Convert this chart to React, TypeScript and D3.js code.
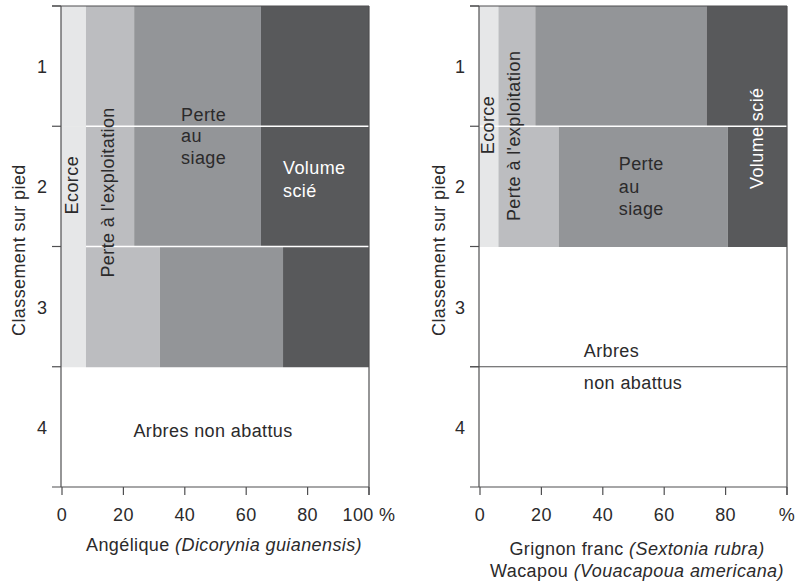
import React from "react";
import * as d3 from "d3";

// ---------- data ----------
const rowLabels = ["1", "2", "3", "4"];
const segmentNames = ["Ecorce", "Perte à l'exploitation", "Perte au siage", "Volume scié"];
const segmentColors = ["#e6e7e8", "#bcbdc0", "#939598", "#58595b"];

// Angélique: % per standing-class row (rows 1-3 felled, row 4 not felled)
const angeliqueRows = ["1", "2", "3"];
const angeliqueEcorce = [7.8, 7.8, 7.8];
const angeliqueExploitation = [15.7, 15.7, 24.1];
const angeliqueSiage = [41.3, 41.3, 40.1];
const angeliqueVolume = [35.2, 35.2, 28.0];

// Grignon franc / Wacapou: rows 1-2 felled, rows 3-4 not felled
const wacapouRows = ["1", "2"];
const wacapouEcorce = [6.0, 6.0];
const wacapouExploitation = [12.0, 19.6];
const wacapouSiage = [55.8, 55.1];
const wacapouVolume = [26.2, 19.3];

const xTicks = [0, 20, 40, 60, 80, 100];
const leftTickLabels = ["0", "20", "40", "60", "80", "100 %"];
const rightTickLabels = ["0", "20", "40", "60", "80", "%"];

const FONT = "'Liberation Sans', Arial, Helvetica, sans-serif";
const TEXT = "#2b2a2b";
const AXIS = "#4f4f51";
const FS = 18;
const LS = 0.4;

type Panel = {
  x0: number;
  x1: number;
  rows: string[];
  series: number[][];
  tickLabels: string[];
  sepFromEcorce: boolean;
  notFelledLine: boolean;
};

const Y0 = 6;
const Y1 = 487;

function PanelView({ p, children, titleX }: { p: Panel; children: any; titleX: number }) {
  const x = d3.scaleLinear().domain([0, 100]).range([p.x0, p.x1]);
  const y = d3.scaleBand<string>().domain(rowLabels).range([Y0, Y1]).padding(0);
  const yc = d3.scaleLinear().domain([0, 4]).range([Y0, Y1]);
  const axisX = p.x0 - 1;
  const left = axisX - 9;
  const right = p.x1;
  const stacked = p.rows.map((r, i) => {
    const vals = p.series.map((s) => s[i]);
    let acc = 0;
    return vals.map((v, k) => {
      const a = acc;
      acc += v;
      return { row: r, k, a, b: acc };
    });
  });
  return (
    <g>
      {stacked.flat().map((d, i) => (
        <rect
          key={i}
          x={d.a === 0 ? axisX : x(d.a)}
          y={y(d.row)!}
          width={(d.b >= 99.9 ? right : x(d.b)) - (d.a === 0 ? axisX : x(d.a))}
          height={y.bandwidth() + 0.5}
          fill={segmentColors[d.k]}
        />
      ))}
      {p.rows.slice(1).map((r, i) => (
        <line
          key={"sep" + i}
          x1={p.sepFromEcorce ? x(p.series[0][i + 1]) : axisX}
          x2={right}
          y1={y(r)!}
          y2={y(r)!}
          stroke="#ffffff"
          strokeWidth={1.3}
        />
      ))}
      {/* frame */}
      <line x1={axisX} x2={axisX} y1={Y0} y2={Y1} stroke={AXIS} strokeWidth={1.2} />
      <line x1={left} x2={right} y1={Y0} y2={Y0} stroke={AXIS} strokeWidth={1.2} />
      <line x1={right} x2={right} y1={Y0} y2={Y1 + 8} stroke={AXIS} strokeWidth={1.2} />
      <line x1={left} x2={right} y1={Y1} y2={Y1} stroke={AXIS} strokeWidth={1.2} />
      {p.notFelledLine && (
        <line x1={left} x2={right} y1={y("4")!} y2={y("4")!} stroke={AXIS} strokeWidth={1.2} />
      )}
      {/* y ticks */}
      {rowLabels.map((r) => (
        <g key={"yt" + r}>
          <line x1={left} x2={axisX} y1={y(r)!} y2={y(r)!} stroke={AXIS} strokeWidth={1.2} />
          <text
            x={axisX - 19}
            y={y(r)! + y.bandwidth() / 2 + 7}
            textAnchor="middle"
            fontFamily={FONT}
            fontSize={FS}
            fill={TEXT}
          >
            {r}
          </text>
        </g>
      ))}
      {/* x ticks */}
      {xTicks.map((t, i) => (
        <g key={"xt" + t}>
          <line x1={x(t)} x2={x(t)} y1={Y1} y2={Y1 + 8} stroke={AXIS} strokeWidth={1.2} />
          <text
            x={x(t)}
            y={521}
            textAnchor="middle"
            fontFamily={FONT}
            fontSize={FS}
            letterSpacing={LS}
            fill={TEXT}
          >
            {p.tickLabels[i]}
          </text>
        </g>
      ))}
      {/* y title */}
      <text
        transform={`translate(${titleX},${yc(2.03)}) rotate(-90)`}
        textAnchor="middle"
        fontFamily={FONT}
        fontSize={FS}
        letterSpacing={LS}
        fill={TEXT}
      >
        Classement sur pied
      </text>
      {children(x, yc)}
    </g>
  );
}

function Rot({ x, y, text, fill = TEXT }: any) {
  return (
    <text
      transform={`translate(${x},${y}) rotate(-90)`}
      textAnchor="middle"
      fontFamily={FONT}
      fontSize={FS}
      letterSpacing={LS}
      fill={fill}
    >
      {text}
    </text>
  );
}

function Lines({ x, y, lines, dy, fill = TEXT, anchor = "start" }: any) {
  return (
    <text fontFamily={FONT} fontSize={FS} letterSpacing={LS} fill={fill} textAnchor={anchor}>
      {lines.map((l: string, i: number) => (
        <tspan key={i} x={x} y={y + i * dy}>
          {l}
        </tspan>
      ))}
    </text>
  );
}

export default function App() {
  const leftPanel: Panel = {
    x0: 62,
    x1: 369,
    rows: angeliqueRows,
    series: [angeliqueEcorce, angeliqueExploitation, angeliqueSiage, angeliqueVolume],
    tickLabels: leftTickLabels,
    sepFromEcorce: true,
    notFelledLine: false,
  };
  const rightPanel: Panel = {
    x0: 480,
    x1: 787,
    rows: wacapouRows,
    series: [wacapouEcorce, wacapouExploitation, wacapouSiage, wacapouVolume],
    tickLabels: rightTickLabels,
    sepFromEcorce: false,
    notFelledLine: true,
  };
  return (
    <svg
      width={797}
      height={581}
      viewBox="0 0 797 581"
      style={{ position: "absolute", left: 0, top: 0, background: "#fff" }}
    >
      <PanelView p={leftPanel} titleX={25}>
        {(x: any, y: any) => (
          <g>
            <Rot x={x(5.2)} y={y(1.49)} text={segmentNames[0]} />
            <Rot x={x(16.9)} y={y(1.55)} text={segmentNames[1]} />
            <Lines x={x(38.8)} y={y(0.956)} dy={21.5} lines={["Perte", "au", "siage"]} />
            <Lines x={x(72.0)} y={y(1.397)} dy={23} lines={["Volume", "scié"]} fill="#ffffff" />
            <Lines x={x(49.2)} y={y(3.584)} dy={0} lines={["Arbres non abattus"]} anchor="middle" />
          </g>
        )}
      </PanelView>
      <PanelView p={rightPanel} titleX={445}>
        {(x: any, y: any) => (
          <g>
            <Rot x={x(4.6)} y={y(0.99)} text={segmentNames[0]} />
            <Rot x={x(13.1)} y={y(1.08)} text={segmentNames[1]} />
            <Rot x={x(92.1)} y={y(1.1)} text={segmentNames[3]} fill="#ffffff" />
            <Lines x={x(45.2)} y={y(1.364)} dy={22.5} lines={["Perte", "au", "siage"]} />
            <Lines x={x(33.8)} y={y(2.92)} dy={0} lines={["Arbres"]} />
            <Lines x={x(33.8)} y={y(3.185)} dy={0} lines={["non abattus"]} />
          </g>
        )}
      </PanelView>
      {/* x-axis titles */}
      <text x={224} y={551} textAnchor="middle" fontFamily={FONT} fontSize={FS} letterSpacing={LS} fill={TEXT}>
        Angélique <tspan fontStyle="italic">(Dicorynia guianensis)</tspan>
      </text>
      <text x={637} y={555} textAnchor="middle" fontFamily={FONT} fontSize={FS} letterSpacing={LS} fill={TEXT}>
        Grignon franc <tspan fontStyle="italic">(Sextonia rubra)</tspan>
      </text>
      <text x={637} y={577} textAnchor="middle" fontFamily={FONT} fontSize={FS} letterSpacing={LS} fill={TEXT}>
        Wacapou <tspan fontStyle="italic">(Vouacapoua americana)</tspan>
      </text>
    </svg>
  );
}
